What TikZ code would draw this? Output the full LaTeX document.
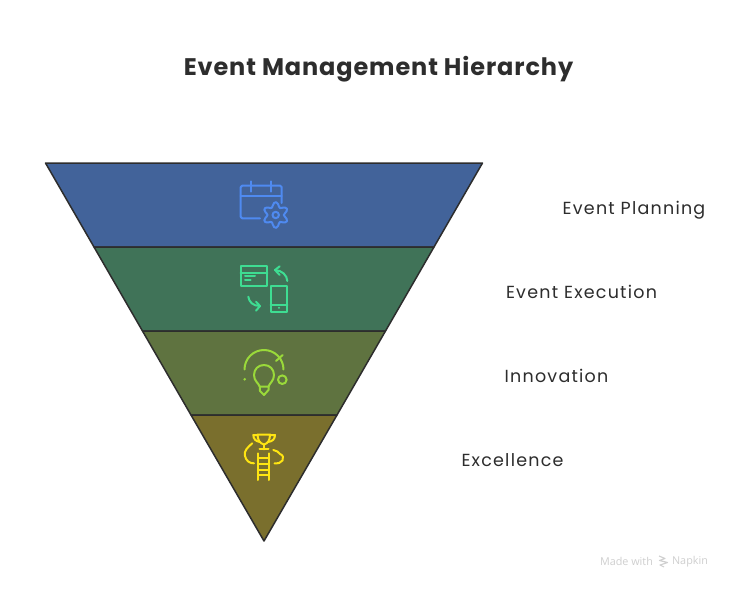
\documentclass[tikz,border=0pt]{standalone}
\usepackage{fontspec}
\setmainfont{Poppins}
\newfontfamily\wm{Open Sans}
\definecolor{ink}{HTML}{2D2D2D}
\definecolor{lblue}{HTML}{42639A}
\definecolor{lgreen}{HTML}{407358}
\definecolor{lolive}{HTML}{5F7340}
\definecolor{lgold}{HTML}{7A6F2D}
\definecolor{iblue}{HTML}{4F8AF0}
\definecolor{igreen}{HTML}{3EDD92}
\definecolor{iolive}{HTML}{9AD93A}
\definecolor{igold}{HTML}{FFE512}
\definecolor{wmgrey}{HTML}{CFCFCF}
\tikzset{
 slice/.style={draw=ink,line width=1.5pt,line join=round},
 ico/.style={line width=2pt,line cap=round,line join=round},
 lab/.style={inner sep=0pt,text=ink,font=\fontsize{17.5}{20}\selectfont\addfontfeature{LetterSpace=7}},
}
\begin{document}
\begin{tikzpicture}[x=1pt,y=-1pt]
\useasboundingbox (0,0) rectangle (732,589);
\fill[white] (0,0) rectangle (732,589);
\node[inner sep=0pt,text=ink,font=\fontsize{24}{28}\bfseries\selectfont\addfontfeature{LetterSpace=3.7}] (title) at (378.5,69.5) {Event Management Hierarchy};
\filldraw[slice,fill=lblue] (45.5,163) -- (482.5,163) -- (434,247) -- (94,247) -- cycle;
\filldraw[slice,fill=lgreen] (94,247) -- (434,247) -- (385.5,331) -- (142.5,331) -- cycle;
\filldraw[slice,fill=lolive] (142.5,331) -- (385.5,331) -- (337,415) -- (191,415) -- cycle;
\filldraw[slice,fill=lgold] (191,415) -- (337,415) -- (264,541) -- cycle;
% calendar + gear
\begin{scope}[ico,draw=iblue]
\draw (260,218.3) -- (242.2,218.3) -- (240.7,216.8) -- (240.7,187.2) -- (242.2,185.7) -- (280.2,185.7) -- (281.7,187.2) -- (281.7,203);
\draw (240.7,196) -- (281.7,196);
\draw (250.7,181.3) -- (250.7,191.7);
\draw (270.7,181.3) -- (270.7,191.7);
\draw plot[smooth cycle,samples=37,domain=0:350,variable=\t] ({275.7+(10.5+2.4*cos(6*\t+180))*cos(\t+0)},{215+(10.5+2.4*cos(6*\t+180))*sin(\t+0)});
\draw (275.7,215) circle[radius=3.2];
\end{scope}
% execution
\begin{scope}[ico,draw=igreen]
\draw (240.7,266) rectangle (267.3,286);
\draw (240.7,272.7) -- (267.3,272.7);
\draw (245,276) -- (255,276);
\draw (245,280) -- (250.7,280);
\draw (270.7,285.7) rectangle (287.3,312.3);
\draw (270.7,305) -- (287.3,305);
\fill[igreen] (279,307.7) circle[radius=1.2];
\draw (287.3,281) .. controls (287,275) and (282,270.5) .. (275,270);
\draw (279.7,266.3) -- (275,270) -- (279.7,275);
\draw (248.3,296.7) .. controls (249,302) and (253,306) .. (260,306);
\draw (256,301.7) -- (260,306) -- (256,310.7);
\end{scope}
% bulb
\begin{scope}[ico,draw=iolive]
\draw (244.5,369.5) arc[start angle=180,end angle=360,x radius=19.5,y radius=19.5];
\draw (276,361) -- (282.7,355);
\fill[iolive] (244.7,379.3) circle[radius=1.4];
\draw (282.3,379.7) circle[radius=4.3];
\draw (259.8,386.7) .. controls (258.5,383) and (254,381) .. (254,375) .. controls (254,369) and (258.5,365) .. (264,365) .. controls (269.5,365) and (274,369) .. (274,375) .. controls (274,381) and (269.5,383) .. (268.5,386.7);
\draw (259.8,386.7) -- (268.5,386.7) -- (268.5,390) -- (264,395) -- (260,391) -- cycle;
\end{scope}
% trophy ladder
\begin{scope}[ico,draw=igold]
\draw (257.5,434.5) -- (270,434.5) .. controls (270,440) and (268,443.5) .. (264,444.5) .. controls (260,443.5) and (257.5,440) .. (257.5,434.5);
\draw (257.5,435) -- (253.3,435) .. controls (253.3,439) and (256,441.5) .. (260,442);
\draw (270,435) -- (275,435) .. controls (275,439) and (272.5,441.5) .. (268,442);
\draw (264,444.5) -- (264,449.3);
\draw (259.5,449.3) -- (268.5,449.3);
\draw (252.3,443.3) .. controls (248,447) and (243.5,451) .. (245,456) .. controls (246,461) and (250,463.5) .. (254,463.3);
\draw (273.3,450) .. controls (276,450.5) and (279,452) .. (280,454) .. controls (283,455) and (284,458) .. (282.5,460.5) .. controls (281,463) and (278,463.5) .. (274.5,463.3);
\draw (258.3,453.3) -- (258.3,480);
\draw (269,453.3) -- (269,480);
\foreach \yy in {458.3,463.8,469.5,475} \draw (258.3,\yy) -- (269,\yy);
\end{scope}
\node[lab] (l1) at (634,210) {Event Planning};
\node[lab] (l2) at (581.5,292) {Event Execution};
\node[lab] (l3) at (556.5,376) {Innovation};
\node[lab] (l4) at (512.5,460) {Excellence};
\node[inner sep=0pt,text=wmgrey,font=\wm\fontsize{10.8}{12}\selectfont] (wm1) at (626.5,561.5) {Made with};
\node[inner sep=0pt,text=wmgrey,font=\wm\fontsize{10.8}{12}\selectfont] (wm2) at (690,561.5) {Napkin};
\draw[wmgrey,line width=1.1pt,line join=round] (659,556) -- (665,558.5) -- (659.5,560.5) -- (667.5,562.5) -- (660,565) -- (664,567);
\end{tikzpicture}
\end{document}
